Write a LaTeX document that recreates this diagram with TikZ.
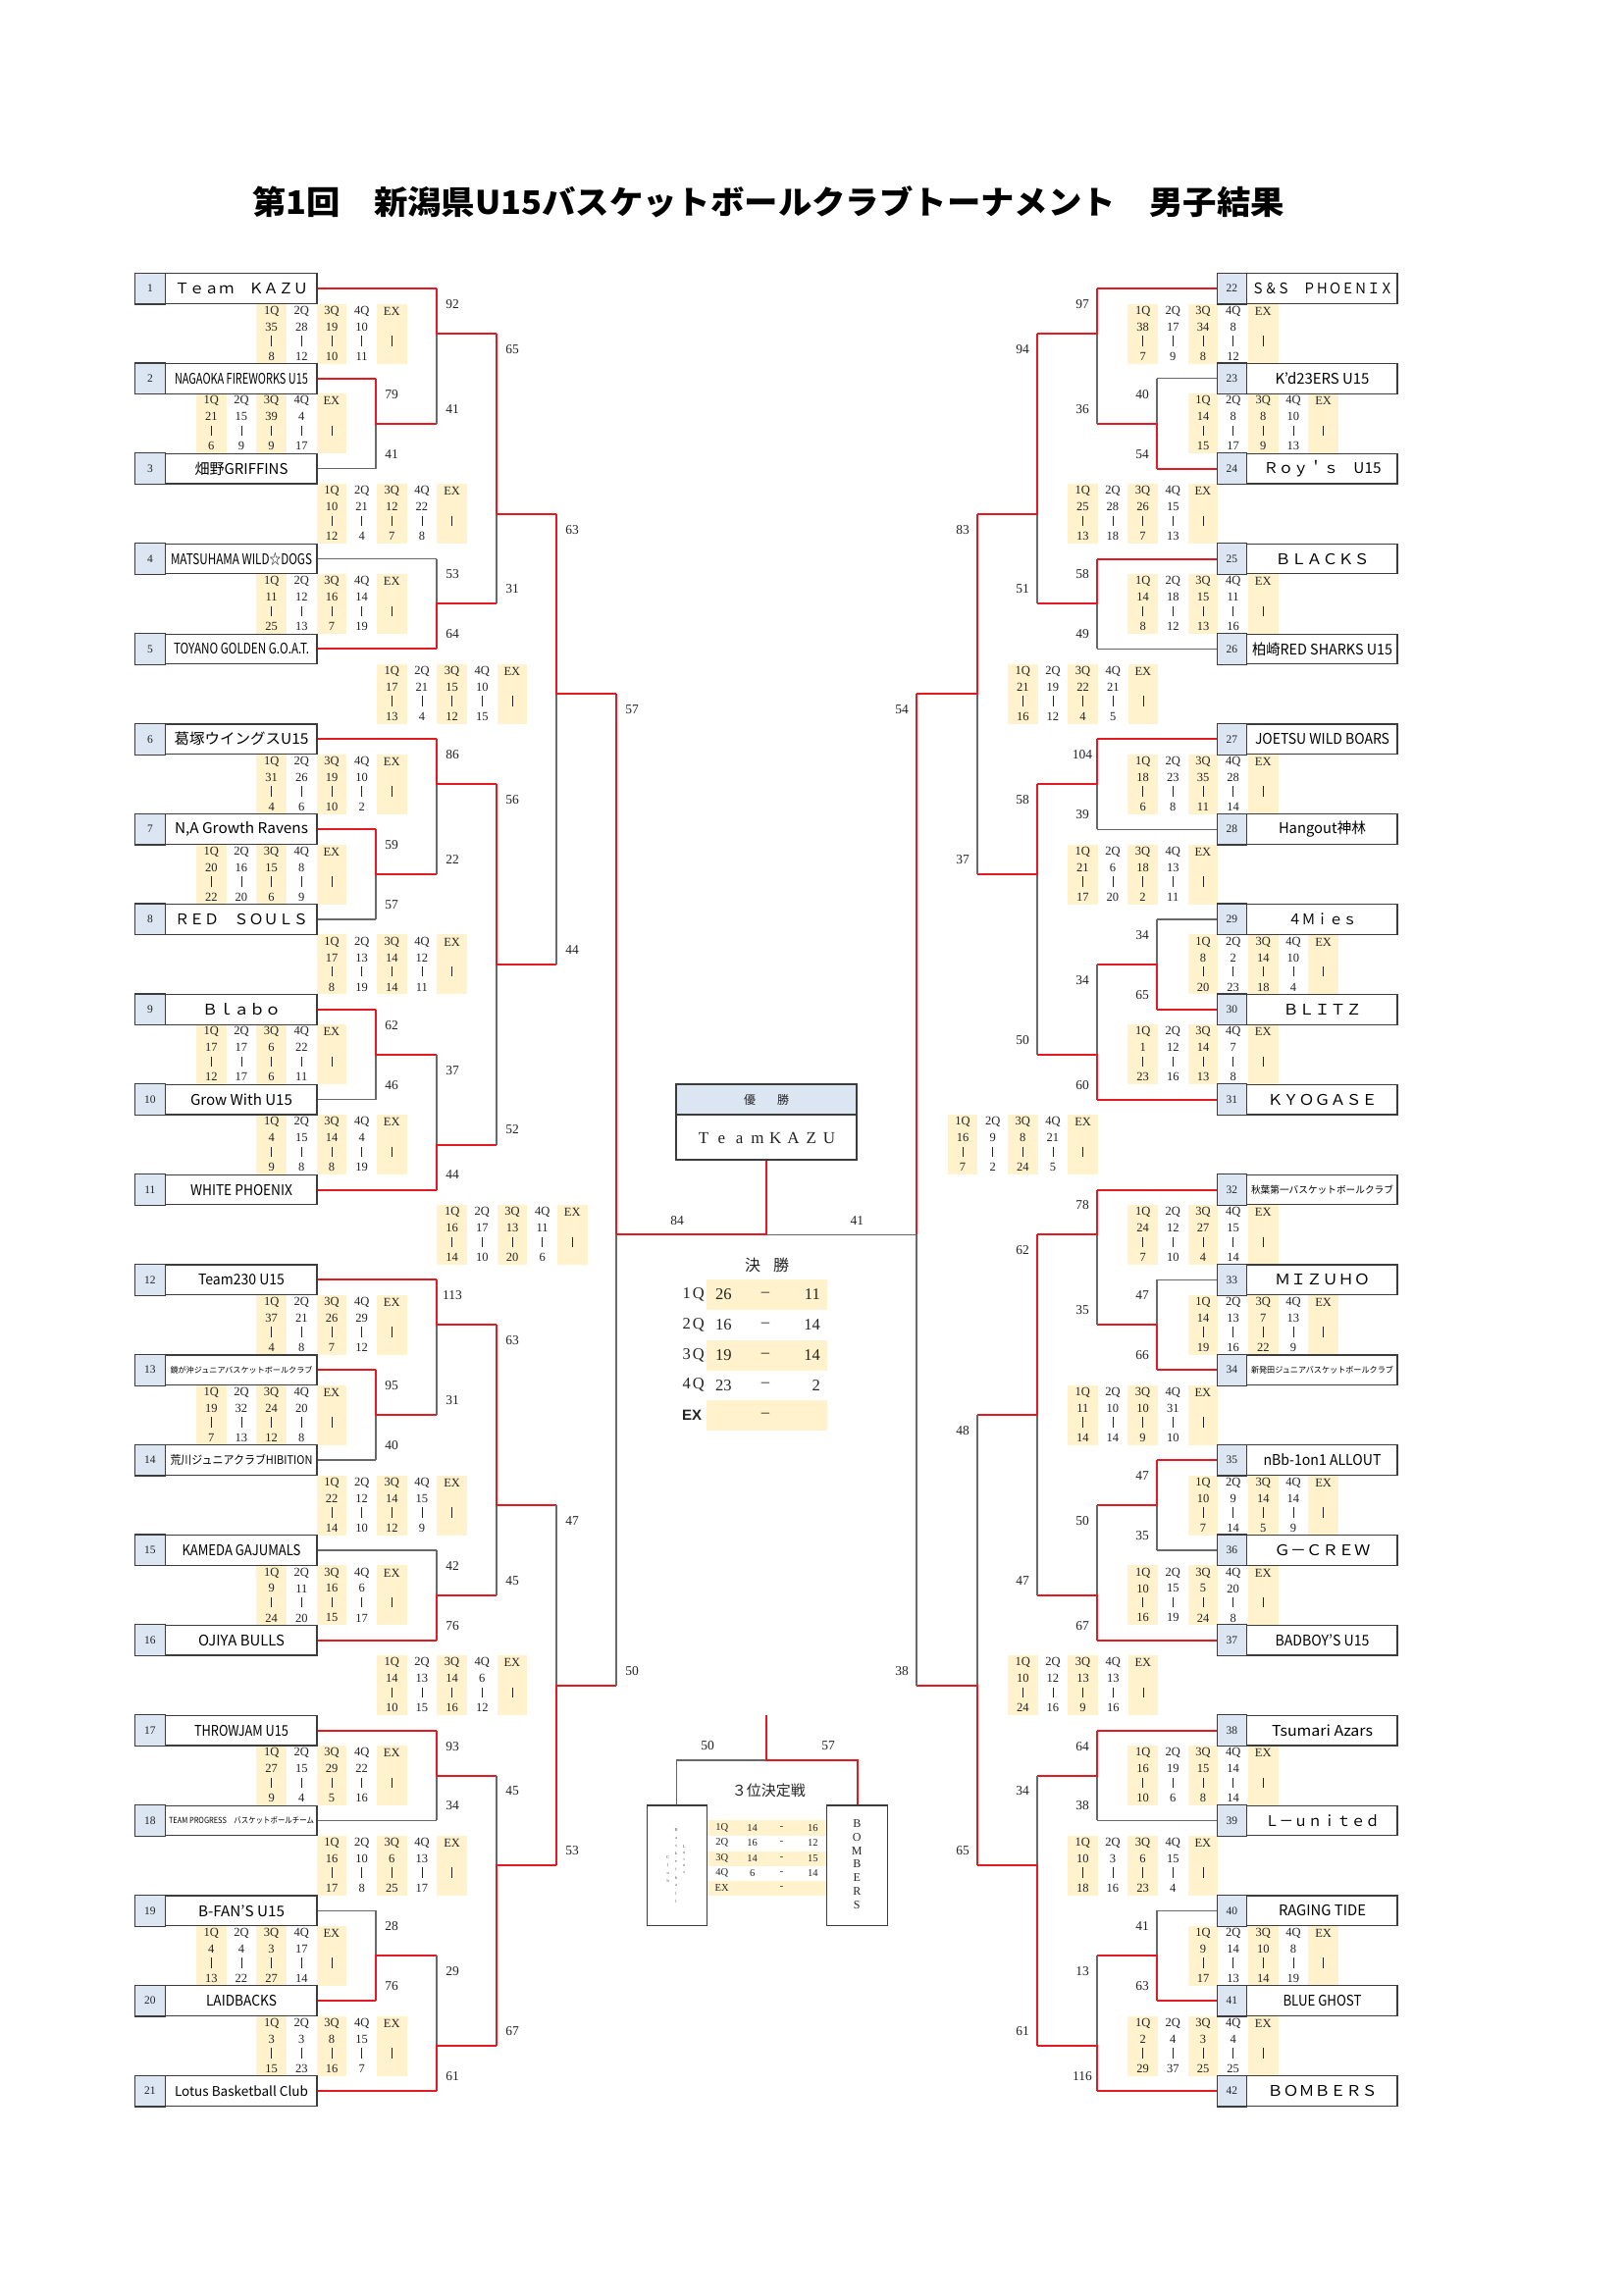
\documentclass[tikz,border=0pt]{standalone}
\usepackage{fontspec}
\usepackage{graphicx}
\setmainfont{Liberation Serif}
\newfontfamily\jp{Noto Sans CJK JP}
\newfontfamily\lsans{Liberation Sans}
\definecolor{rd}{RGB}{228,26,34}
\definecolor{gy}{RGB}{105,105,105}
\definecolor{bx}{RGB}{60,60,60}
\definecolor{lb}{RGB}{220,230,242}
\definecolor{ly}{RGB}{255,242,204}
\definecolor{txt}{RGB}{35,35,35}
\newdimen\nmwd
\newcount\ndc
\newcommand\nmfit[3]{{\jp\fontsize{#1}{#1}\selectfont\settowidth{\nmwd}{#3}\pgfmathsetmacro\nmsc{#2/\nmwd}\scalebox{\nmsc}[1]{#3}}}
\newcommand\nmfitb[3]{{\jp\bfseries\fontsize{#1}{#1}\selectfont\settowidth{\nmwd}{#3}\pgfmathsetmacro\nmsc{#2/\nmwd}\scalebox{\nmsc}[1]{#3}}}
\newcommand\rowy[1]{(294+91.85*(#1-1))}
\newcommand\midy[1]{(339.925+91.85*(#1-1))}
\newcommand\txn[3]{\global\advance\ndc by 1\relax\node[#1] (x\the\ndc) at (#2) {#3};}
\newcommand\teamL[5]{%
  \node[tbox,minimum width=185pt] (t#1) at (230.5,{\rowy{#2}}) {};
  \draw[bxl,fill=lb] (t#1.north west) rectangle ([xshift=31pt]t#1.south west);
  \node[numf] (n#1) at ([xshift=15.5pt]t#1.west) {#1};
  \node[inner sep=0pt] (m#1) at (246,{\rowy{#2}}) {\nmfit{#3}{#4}{#5}};}
\newcommand\teamR[5]{%
  \node[tbox,minimum width=183pt] (t#1) at (1332.5,{\rowy{#2}}) {};
  \draw[bxl,fill=lb] (t#1.north west) rectangle ([xshift=30pt]t#1.south west);
  \node[numf] (n#1) at ([xshift=15pt]t#1.west) {#1};
  \node[inner sep=0pt] (m#1) at (1347.5,{\rowy{#2}}) {\nmfit{#3}{#4}{#5}};}
\newcommand\tmL[3]{\draw[#3] (t#1.east) -- (#2,{\rowy{#1}});}
\newcommand\tmR[4]{\draw[#4] (t#1.west) -- (#3,{\rowy{#2}});}
% X, yt, yb, yj, xout, winner(0 top/1 bottom), score top, score bottom, label dx
\newcommand\mtc[9]{%
  \ifnum#6=0
    \draw[gl] (#1,{#4}) -- (#1,{#3});
    \draw[rl] (#1,{#2}) -- (#1,{#4}) -- (#5,{#4});
  \else
    \draw[gl] (#1,{#2}) -- (#1,{#4});
    \draw[rl] (#1,{#3}) -- (#1,{#4}) -- (#5,{#4});
  \fi
  \txn{sc}{{#1+(#9)},{#2+16}}{#7}
  \txn{sc}{{#1+(#9)},{#3-15}}{#8}}
\newcommand\sctab[3]{%
  \foreach \k in {0,2,4}{\fill[ly] ({#1+30.65*\k-15.3},{\rowy{#2}+15.5}) rectangle ({#1+30.65*\k+15.3},{\rowy{#2}+76.5});}
  \foreach \h [count=\k from 0] in {1Q,2Q,3Q,4Q,EX}{\txn{tt}{{#1+30.65*\k},{\rowy{#2}+23}}{\h}}
  \foreach \a/\b [count=\k from 0] in {#3}{%
    \txn{tt}{{#1+30.65*\k},{\rowy{#2}+39}}{\a}
    \draw[bar] ({#1+30.65*\k},{\rowy{#2}+48}) -- ({#1+30.65*\k},{\rowy{#2}+58.5});
    \txn{tt}{{#1+30.65*\k},{\rowy{#2}+69}}{\b}}
  \draw[bar] ({#1+122.6},{\rowy{#2}+48}) -- ({#1+122.6},{\rowy{#2}+58.5});}
\begin{document}
\begin{tikzpicture}[x=1pt,y=-1pt,
  rl/.style={draw=rd,line width=2pt,line join=miter},
  gl/.style={draw=gy,line width=1.2pt},
  bxl/.style={draw=bx,line width=1.2pt},
  tbox/.style={draw=bx,line width=1.2pt,fill=white,minimum height=30.6pt,inner sep=0pt},
  numf/.style={font=\fontsize{11.5}{12}\selectfont,text=txt,inner sep=0pt},
  sc/.style={font=\fontsize{13.5}{14}\selectfont,text=txt,inner sep=0pt},
  tt/.style={font=\fontsize{12.5}{13}\selectfont,text=txt,inner sep=0pt},
  bar/.style={draw=txt,line width=0.6pt},
  ft/.style={font=\fontsize{16.5}{17}\selectfont,text=txt,inner sep=0pt},
  ftb/.style={font=\lsans\bfseries\fontsize{15}{16}\selectfont,text=txt,inner sep=0pt},
  st/.style={font=\fontsize{10.5}{11}\selectfont,text=txt,inner sep=0pt},
  vt/.style={font=\fontsize{4.5}{5}\selectfont,text=txt!80,inner sep=0pt},
  bv/.style={font=\fontsize{12}{12}\selectfont,text=txt,inner sep=0pt},
  wl/.style={font=\fontsize{17}{17}\selectfont,text=txt,inner sep=0pt,anchor=base},
  box3/.style={draw=bx,line width=1.2pt,fill=white,inner sep=0pt,minimum height=122.3pt}]
\useasboundingbox (0,0) rectangle (1654,2339);
\fill[white] (0,0) rectangle (1654,2339);

% title
\node[inner sep=0pt] (title) at (783,206) {\nmfitb{33}{1052}{第1回　新潟県U15バスケットボールクラブトーナメント　男子結果}};

% score tables left
\sctab{276.7}{1}{35/8,28/12,19/10,10/11}
\sctab{215.3}{2}{21/6,15/9,39/9,4/17}
\sctab{338}{3}{10/12,21/4,12/7,22/8}
\sctab{276.7}{4}{11/25,12/13,16/7,14/19}
\sctab{399.3}{5}{17/13,21/4,15/12,10/15}
\sctab{276.7}{6}{31/4,26/6,19/10,10/2}
\sctab{215.3}{7}{20/22,16/20,15/6,8/9}
\sctab{338}{8}{17/8,13/19,14/14,12/11}
\sctab{215.3}{9}{17/12,17/17,6/6,22/11}
\sctab{276.7}{10}{4/9,15/8,14/8,4/19}
\sctab{460.7}{11}{16/14,17/10,13/20,11/6}
\sctab{276.7}{12}{37/4,21/8,26/7,29/12}
\sctab{215.3}{13}{19/7,32/13,24/12,20/8}
\sctab{338}{14}{22/14,12/10,14/12,15/9}
\sctab{276.7}{15}{9/24,11/20,16/15,6/17}
\sctab{399.3}{16}{14/10,13/15,14/16,6/12}
\sctab{276.7}{17}{27/9,15/4,29/5,22/16}
\sctab{338}{18}{16/17,10/8,6/25,13/17}
\sctab{215.3}{19}{4/13,4/22,3/27,17/14}
\sctab{276.7}{20}{3/15,3/23,8/16,15/7}
% score tables right
\sctab{1164.7}{1}{38/7,17/9,34/8,8/12}
\sctab{1226}{2}{14/15,8/17,8/9,10/13}
\sctab{1103.3}{3}{25/13,28/18,26/7,15/13}
\sctab{1164.7}{4}{14/8,18/12,15/13,11/16}
\sctab{1042.3}{5}{21/16,19/12,22/4,21/5}
\sctab{1164.7}{6}{18/6,23/8,35/11,28/14}
\sctab{1103.3}{7}{21/17,6/20,18/2,13/11}
\sctab{1226}{8}{8/20,2/23,14/18,10/4}
\sctab{1164.7}{9}{1/23,12/16,14/13,7/8}
\sctab{981}{10}{16/7,9/2,8/24,21/5}
\sctab{1164.7}{11}{24/7,12/10,27/4,15/14}
\sctab{1226}{12}{14/19,13/16,7/22,13/9}
\sctab{1103.3}{13}{11/14,10/14,10/9,31/10}
\sctab{1226}{14}{10/7,9/14,14/5,14/9}
\sctab{1164.7}{15}{10/16,15/19,5/24,20/8}
\sctab{1042.3}{16}{10/24,12/16,13/9,13/16}
\sctab{1164.7}{17}{16/10,19/6,15/8,14/14}
\sctab{1103.3}{18}{10/18,3/16,6/23,15/4}
\sctab{1226}{19}{9/17,14/13,10/14,8/19}
\sctab{1164.7}{20}{2/29,4/37,3/25,4/25}

% teams left
\teamL{1}{1}{15}{136}{Ｔｅａｍ　ＫＡＺＵ}
\teamL{2}{2}{15}{136}{NAGAOKA FIREWORKS U15}
\teamL{3}{3}{15}{95}{畑野GRIFFINS}
\teamL{4}{4}{15}{144}{MATSUHAMA WILD☆DOGS}
\teamL{5}{5}{15}{138}{TOYANO GOLDEN G.O.A.T.}
\teamL{6}{6}{15}{137}{葛塚ウイングスU15}
\teamL{7}{7}{15}{136}{N,A Growth Ravens}
\teamL{8}{8}{15}{136}{ＲＥＤ　ＳＯＵＬＳ}
\teamL{9}{9}{15}{80}{Ｂｌａｂｏ}
\teamL{10}{10}{15}{104}{Grow With U15}
\teamL{11}{11}{15}{104}{WHITE PHOENIX}
\teamL{12}{12}{15}{88}{Team230 U15}
\teamL{13}{13}{8}{145}{鏡が沖ジュニアバスケットボールクラブ}
\teamL{14}{14}{12}{145}{荒川ジュニアクラブHIBITION}
\teamL{15}{15}{15}{121}{KAMEDA GAJUMALS}
\teamL{16}{16}{15}{88}{OJIYA BULLS}
\teamL{17}{17}{15}{96}{THROWJAM U15}
\teamL{18}{18}{8.5}{148}{TEAM PROGRESS　バスケットボールチーム}
\teamL{19}{19}{15}{88}{B-FAN’S U15}
\teamL{20}{20}{15}{72}{LAIDBACKS}
\teamL{21}{21}{13.5}{136}{Lotus Basketball Club}
% teams right
\teamR{22}{1}{15}{144}{Ｓ＆Ｓ　ＰＨＯＥＮＩＸ}
\teamR{23}{2}{15}{96}{K’d23ERS U15}
\teamR{24}{3}{15}{120}{Ｒｏｙ＇ｓ　U15}
\teamR{25}{4}{15}{96}{ＢＬＡＣＫＳ}
\teamR{26}{5}{15}{143}{柏崎RED SHARKS U15}
\teamR{27}{6}{15}{137}{JOETSU WILD BOARS}
\teamR{28}{7}{15}{89}{Hangout神林}
\teamR{29}{8}{15}{70}{４Ｍｉｅｓ}
\teamR{30}{9}{15}{80}{ＢＬＩＴＺ}
\teamR{31}{10}{15}{112}{ＫＹＯＧＡＳＥ}
\teamR{32}{11}{10}{145}{秋葉第一バスケットボールクラブ}
\teamR{33}{12}{15}{97}{ＭＩＺＵＨＯ}
\teamR{34}{13}{8.5}{145}{新発田ジュニアバスケットボールクラブ}
\teamR{35}{14}{15}{120}{nBb-1on1 ALLOUT}
\teamR{36}{15}{15}{98}{Ｇ－ＣＲＥＷ}
\teamR{37}{16}{15}{96}{BADBOY’S U15}
\teamR{38}{17}{15}{103}{Tsumari Azars}
\teamR{39}{18}{15}{117}{Ｌ－ｕｎｉｔｅｄ}
\teamR{40}{19}{15}{89}{RAGING TIDE}
\teamR{41}{20}{15}{80}{BLUE GHOST}
\teamR{42}{21}{15}{112}{ＢＯＭＢＥＲＳ}

% team lines left
\tmL{1}{445}{rl}\tmL{2}{383}{rl}\tmL{3}{383}{gl}\tmL{4}{445}{gl}\tmL{5}{445}{rl}
\tmL{6}{445}{rl}\tmL{7}{383}{rl}\tmL{8}{383}{gl}\tmL{9}{383}{rl}\tmL{10}{383}{gl}
\tmL{11}{445}{rl}\tmL{12}{445}{rl}\tmL{13}{383}{rl}\tmL{14}{383}{gl}\tmL{15}{445}{gl}
\tmL{16}{445}{rl}\tmL{17}{445}{rl}\tmL{18}{445}{gl}\tmL{19}{383}{gl}\tmL{20}{383}{rl}
\tmL{21}{445}{rl}
% team lines right
\tmR{22}{1}{1118}{rl}\tmR{23}{2}{1179}{gl}\tmR{24}{3}{1179}{rl}\tmR{25}{4}{1118}{rl}
\tmR{26}{5}{1118}{gl}\tmR{27}{6}{1118}{rl}\tmR{28}{7}{1118}{gl}\tmR{29}{8}{1179}{gl}
\tmR{30}{9}{1179}{rl}\tmR{31}{10}{1118}{rl}\tmR{32}{11}{1118}{rl}\tmR{33}{12}{1179}{gl}
\tmR{34}{13}{1179}{rl}\tmR{35}{14}{1179}{rl}\tmR{36}{15}{1179}{gl}\tmR{37}{16}{1118}{rl}
\tmR{38}{17}{1118}{rl}\tmR{39}{18}{1118}{gl}\tmR{40}{19}{1179}{gl}\tmR{41}{20}{1179}{rl}
\tmR{42}{21}{1118}{rl}

% matches left
\mtc{383}{\rowy{2}}{\rowy{3}}{\midy{2}}{445}{0}{79}{41}{16}
\mtc{445}{\rowy{1}}{\midy{2}}{\midy{1}}{506}{0}{92}{41}{16}
\mtc{445}{\rowy{4}}{\rowy{5}}{\midy{4}}{506}{1}{53}{64}{16}
\mtc{506}{\midy{1}}{\midy{4}}{\midy{3}}{567}{0}{65}{31}{16}
\mtc{383}{\rowy{7}}{\rowy{8}}{\midy{7}}{445}{0}{59}{57}{16}
\mtc{445}{\rowy{6}}{\midy{7}}{\midy{6}}{506}{0}{86}{22}{16}
\mtc{383}{\rowy{9}}{\rowy{10}}{\midy{9}}{445}{0}{62}{46}{16}
\mtc{445}{\midy{9}}{\rowy{11}}{\midy{10}}{506}{1}{37}{44}{16}
\mtc{506}{\midy{6}}{\midy{10}}{\midy{8}}{567}{0}{56}{52}{16}
\mtc{567}{\midy{3}}{\midy{8}}{\midy{5}}{628}{0}{63}{44}{16}
\mtc{383}{\rowy{13}}{\rowy{14}}{\midy{13}}{445}{0}{95}{40}{16}
\mtc{445}{\rowy{12}}{\midy{13}}{\midy{12}}{506}{0}{113}{31}{16}
\mtc{445}{\rowy{15}}{\rowy{16}}{\midy{15}}{506}{1}{42}{76}{16}
\mtc{506}{\midy{12}}{\midy{15}}{\midy{14}}{567}{0}{63}{45}{16}
\mtc{445}{\rowy{17}}{\rowy{18}}{\midy{17}}{506}{0}{93}{34}{16}
\mtc{383}{\rowy{19}}{\rowy{20}}{\midy{19}}{445}{1}{28}{76}{16}
\mtc{445}{\midy{19}}{\rowy{21}}{\midy{20}}{506}{1}{29}{61}{16}
\mtc{506}{\midy{17}}{\midy{20}}{\midy{18}}{567}{1}{45}{67}{16}
\mtc{567}{\midy{14}}{\midy{18}}{\midy{16}}{628}{1}{47}{53}{16}
% matches right
\mtc{1179}{\rowy{2}}{\rowy{3}}{\midy{2}}{1118}{1}{40}{54}{-15}
\mtc{1118}{\rowy{1}}{\midy{2}}{\midy{1}}{1057}{0}{97}{36}{-15}
\mtc{1118}{\rowy{4}}{\rowy{5}}{\midy{4}}{1057}{0}{58}{49}{-15}
\mtc{1057}{\midy{1}}{\midy{4}}{\midy{3}}{996}{0}{94}{51}{-15}
\mtc{1118}{\rowy{6}}{\rowy{7}}{\midy{6}}{1057}{0}{104}{39}{-15}
\mtc{1179}{\rowy{8}}{\rowy{9}}{\midy{8}}{1118}{1}{34}{65}{-15}
\mtc{1118}{\midy{8}}{\rowy{10}}{\midy{9}}{1057}{1}{34}{60}{-15}
\mtc{1057}{\midy{6}}{\midy{9}}{\midy{7}}{996}{0}{58}{50}{-15}
\mtc{996}{\midy{3}}{\midy{7}}{\midy{5}}{934}{0}{83}{37}{-15}
\mtc{1179}{\rowy{12}}{\rowy{13}}{\midy{12}}{1118}{1}{47}{66}{-15}
\mtc{1118}{\rowy{11}}{\midy{12}}{\midy{11}}{1057}{0}{78}{35}{-15}
\mtc{1179}{\rowy{14}}{\rowy{15}}{\midy{14}}{1118}{0}{47}{35}{-15}
\mtc{1118}{\midy{14}}{\rowy{16}}{\midy{15}}{1057}{1}{50}{67}{-15}
\mtc{1057}{\midy{11}}{\midy{15}}{\midy{13}}{996}{0}{62}{47}{-15}
\mtc{1118}{\rowy{17}}{\rowy{18}}{\midy{17}}{1057}{0}{64}{38}{-15}
\mtc{1179}{\rowy{19}}{\rowy{20}}{\midy{19}}{1118}{1}{41}{63}{-15}
\mtc{1118}{\midy{19}}{\rowy{21}}{\midy{20}}{1057}{1}{13}{116}{-15}
\mtc{1057}{\midy{17}}{\midy{20}}{\midy{18}}{996}{1}{34}{61}{-15}
\mtc{996}{\midy{13}}{\midy{18}}{\midy{16}}{934}{1}{48}{65}{-15}

% semifinals
\draw[gl] (628,{\midy{11}}) -- (628,{\midy{16}});
\draw[rl] (628,{\midy{5}}) -- (628,{\midy{11}});
\txn{sc}{644,{\midy{5}+16}}{57}
\txn{sc}{644,{\midy{16}-15}}{50}
\draw[gl] (934,{\midy{11}}) -- (934,{\midy{16}});
\draw[rl] (934,{\midy{5}}) -- (934,{\midy{11}});
\txn{sc}{919,{\midy{5}+16}}{54}
\txn{sc}{919,{\midy{16}-15}}{38}

% champion box
\fill[lb] (689,1105) rectangle (873,1136);
\node[draw=bx,line width=1.5pt,minimum width=184pt,minimum height=77pt,inner sep=0pt] (wb) at (781,1143.5) {};
\draw[bx,line width=1.3pt] (689,1136) -- (873,1136);
\txn{inner sep=0pt,text=txt}{781,1120.5}{\jp\fontsize{12}{12}\selectfont 優\hspace{22pt}勝}
\foreach \c [count=\i from 0] in {T,e,a,m,K,A,Z,U}{\txn{wl}{{717+18.3*\i},1165}{\c}}
% final
\coordinate (fj) at (781,{\midy{11}});
\draw[gl] (fj) -- (934,{\midy{11}});
\draw[rl] (628,{\midy{11}}) -- (fj) -- (wb.south);
\txn{sc}{690,1244}{84}
\txn{sc}{873.3,1244}{41}
% final score table
\txn{inner sep=0pt,text=txt}{781.7,1289.3}{\jp\fontsize{16}{16}\selectfont 決\hspace{13pt}勝}
\foreach \yy in {1304,1365.7,1426.7}{\fill[ly] (720,\yy) rectangle (843.3,{\yy+31});}
\foreach \lab/\a/\b/\yy in {1/26/11/1319.3,2/16/14/1350,3/19/14/1381,4/23/2/1411.7}{%
  \txn{ft}{706.7,\yy}{\lab\hspace{2pt}Q}
  \txn{ft,anchor=west}{729,\yy}{\a}
  \txn{ft}{780,\yy}{–}
  \txn{ft,anchor=east}{836,\yy}{\b}}
\txn{ftb}{705,1442.3}{EX}
\txn{ft}{780,1442.3}{–}

% third place
\node[box3,minimum width=61pt] (l3) at (689.8,1901.2) {};
\node[box3,minimum width=61.6pt] (r3) at (873.5,1901.2) {};
\coordinate (c3) at (781,1794);
\coordinate (c3t) at (781,1748);
\draw[gl] (l3.north) -- (l3.north |- c3) -- (c3);
\draw[rl] (c3t) -- (c3) -- (r3.north |- c3) -- (r3.north);
\txn{sc}{721,1779}{50}
\txn{sc}{844,1779}{57}
\txn{inner sep=0pt,text=txt}{783.3,1825}{\jp\fontsize{15}{15}\selectfont ３位決定戦}
\foreach \yy in {1855,1886.7,1916.7}{\fill[ly] (720.9,\yy) rectangle (842.1,{\yy+15.6});}
\foreach \lab/\a/\b/\yy in {1Q/14/16/1862.7,2Q/16/12/1878,3Q/14/15/1893.7,4Q/6/14/1909}{%
  \txn{st}{735.7,\yy}{\lab}
  \txn{st}{766.7,\yy}{\a}
  \txn{st}{796.7,\yy}{-}
  \txn{st}{828.3,\yy}{\b}}
\txn{st}{735.7,1924.3}{EX}
\txn{st}{796.7,1924.3}{-}
\foreach \c [count=\i from 0] in {L,o,t,u,s}{\txn{vt}{697.3,{1882+6.5*\i}}{\c}}
\foreach \c [count=\i from 0] in {B,a,s,k,e,t,b,a,l,l}{\txn{vt}{689,{1865+8.1*\i}}{\c}}
\foreach \c [count=\i from 0] in {C,l,u,b}{\txn{vt}{680.7,{1893+8*\i}}{\c}}
\foreach \c [count=\i from 0] in {B,O,M,B,E,R,S}{\txn{bv}{873.3,{1858.3+13.9*\i}}{\c}}
\end{tikzpicture}
\end{document}
